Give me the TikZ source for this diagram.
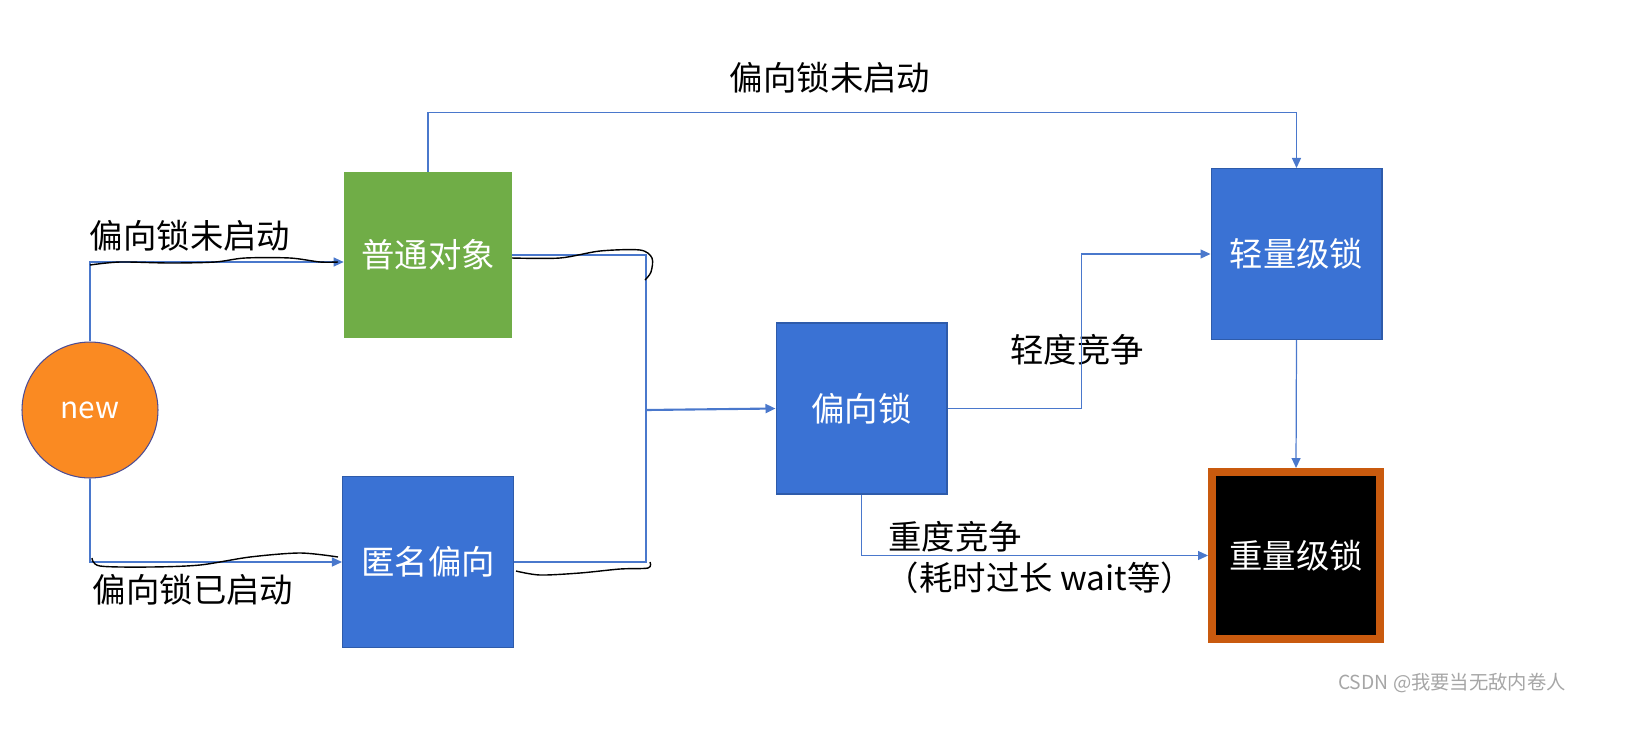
\documentclass[tikz,border=0pt]{standalone}
\usepackage{fontspec}
\setmainfont{Noto Sans CJK SC}
\usepackage{xcolor}
\usetikzlibrary{positioning, arrows.meta}

\definecolor{boxblue}{HTML}{3A72D4}
\definecolor{boxgreen}{HTML}{70AD47}
\definecolor{neworange}{HTML}{FA8A22}
\definecolor{heavyedge}{HTML}{C95A0E}
\definecolor{linkblue}{HTML}{4A78CC}

\begin{document}
\begin{tikzpicture}[
  x=0.02cm, y=-0.02cm,
  every node/.style={font=\fontsize{19}{22}\selectfont},
  box/.style      ={rectangle, inner sep=0pt, text=white, align=center},
  plainbox/.style ={box, fill=boxgreen, minimum width=3.36cm, minimum height=3.32cm},
  bluebox/.style  ={box, fill=boxblue, draw=boxblue!80!black, line width=0.6pt,
                    minimum width=3.42cm, minimum height=3.42cm},
  heavybox/.style ={box, fill=black, draw=heavyedge, line width=0.16cm,
                    minimum width=3.36cm, minimum height=3.34cm},
  link/.style     ={draw=linkblue, line width=0.7pt,
                    -{Triangle[length=2mm, width=1.8mm]}},
  hand/.style     ={black, line width=0.8pt, smooth},
  lbl/.style      ={text=black}
]
\useasboundingbox (0,0) rectangle (1639,731);

%--- Nodes ------------------------------------------------------------------
\node[circle, fill=neworange, draw=black!60!blue!70, line width=0.6pt,
      minimum size=2.72cm, text=white, font=\fontsize{17}{20}\selectfont]
                  (new)    at (90,410)     {new};
\node[plainbox]   (plain)  at (428,255)    {普通对象};
\node[bluebox]    (anon)   at (428,562)    {匿名偏向};
\node[bluebox]    (biased) at (861.5,408.5) {偏向锁};
\node[bluebox]    (light)  at (1296.5,254) {轻量级锁};
\node[heavybox]   (heavy)  at (1296,555.5) {重量级锁};

\coordinate (merge) at (646,410);

%--- Labels -----------------------------------------------------------------
\node[lbl] (offA)  at (190,236)  {偏向锁未启动};
\node[lbl] (onA)   at (193,590)  {偏向锁已启动};
\node[lbl] (offB)  at (830,78)   {偏向锁未启动};
\node[lbl] (mild)  at (1077,350) {轻度竞争};
\node[lbl] (hard)  at (955,537)  {重度竞争};
\node[lbl] (hardB) at (1040,578) {（耗时过长 wait等）};
\node[text=black!35, font=\fontsize{11}{13}\selectfont]
           (mark)  at (1452,683) {CSDN @我要当无敌内卷人};

%--- Connections ------------------------------------------------------------
\draw[link] (new.north) |- ([yshift=-0.14cm]plain.west);
\draw[link] (new.south) |- (anon.west);
\draw[draw=linkblue, line width=0.7pt] (plain.east) -| (merge)
      (anon.east) -| (merge);
\draw[link, line width=1.2pt] (merge) -- (biased.west);
\draw[link] (plain.north) -- ++(0,-59) -| (light.north);
\draw[link] (biased.east) -- ++(134,0) |- (light.west);
\draw[link] (biased.south) |- (heavy.west);
\draw[link] (light.south) -- (heavy.north);

%--- Hand-drawn strokes -----------------------------------------------------
\draw[hand] plot coordinates {(90,265) (120,262) (170,263) (215,262) (245,258)
      (290,258) (320,262) (338,262)};
\draw[hand] plot coordinates {(512,258) (560,258) (600,251) (640,250) (652,258)
      (651,272) (645,280)};
\draw[hand] plot coordinates {(92,558) (100,566) (150,567) (200,565) (250,557)
      (300,553) (338,557)};
\draw[hand] plot coordinates {(516,571) (540,575) (580,573) (620,569) (648,568)
      (650,562)};
\end{tikzpicture}
\end{document}
